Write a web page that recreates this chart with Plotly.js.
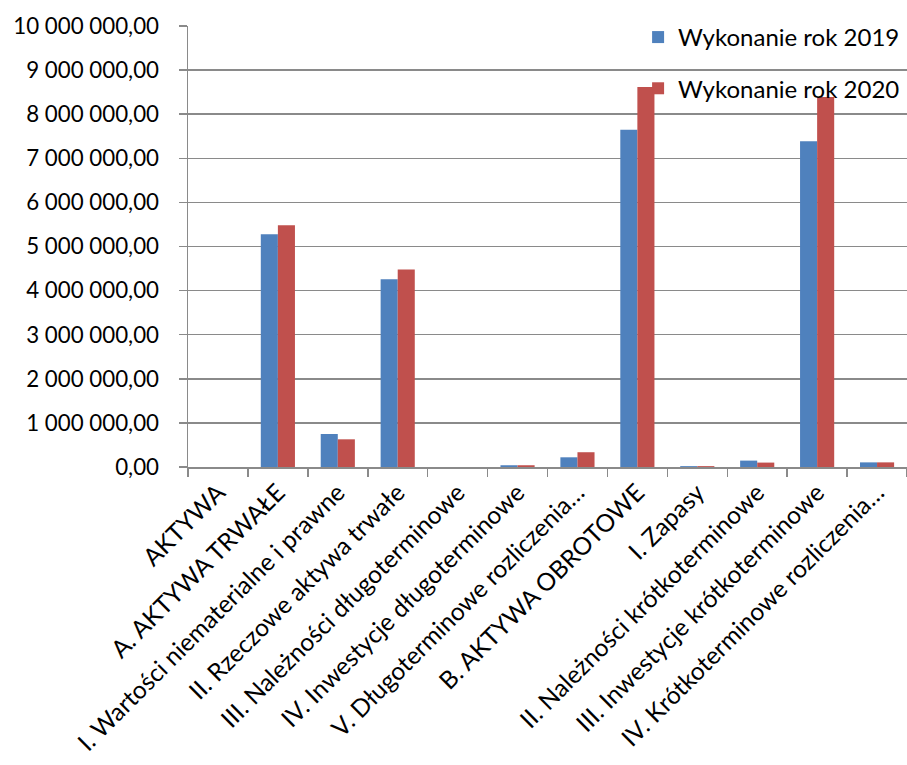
<!DOCTYPE html>
<html>
<head>
<meta charset="utf-8">
<script src="https://cdn.plot.ly/plotly-3.0.1.min.js"></script>
<style>html,body{margin:0;padding:0;background:#fff;}</style>
</head>
<body>
<div id="chart" style="width:907px;height:765px;"></div>
<script>
var categories = [
  "AKTYWA",
  "A. AKTYWA TRWAŁE",
  "I. Wartości niematerialne i prawne",
  "II. Rzeczowe aktywa trwałe",
  "III. Należności długoterminowe",
  "IV. Inwestycje długoterminowe",
  "V. Długoterminowe rozliczenia…",
  "B. AKTYWA OBROTOWE",
  "I. Zapasy",
  "II. Należności krótkoterminowe",
  "III. Inwestycje krótkoterminowe",
  "IV. Krótkoterminowe rozliczenia…"
];
var values2019 = [0, 5277000, 748000, 4256000, 0, 40000, 220000, 7650000, 20000, 145000, 7385000, 105000];
var values2020 = [0, 5480000, 628000, 4476000, 0, 40000, 335000, 8617000, 20000, 100000, 8390000, 105000];
var seriesNames = ["Wykonanie rok 2019", "Wykonanie rok 2020"];
var tickValues = [0, 1000000, 2000000, 3000000, 4000000, 5000000, 6000000, 7000000, 8000000, 9000000, 10000000];
var tickLabels = ["0,00", "1 000 000,00", "2 000 000,00", "3 000 000,00", "4 000 000,00", "5 000 000,00",
                  "6 000 000,00", "7 000 000,00", "8 000 000,00", "9 000 000,00", "10 000 000,00"];

var gridGray = "#8a8a8a";
var fontFam = "Lato, 'Open Sans', sans-serif";

var traces = [
  {type: "bar", name: seriesNames[0], x: categories, y: values2019,
   marker: {color: "#4F81BD"}, legendgroup: "a", hoverinfo: "x+y"},
  {type: "bar", name: seriesNames[1], x: categories, y: values2020,
   marker: {color: "#C0504D"}, legendgroup: "b", hoverinfo: "x+y"}
];

var layout = {
  width: 907, height: 765,
  margin: {l: 188, r: 0, t: 26, b: 298, pad: 0},
  paper_bgcolor: "#ffffff", plot_bgcolor: "#ffffff",
  font: {family: fontFam, size: 22, color: "#000000"},
  barmode: "group", bargap: 0.43, bargroupgap: 0,
  showlegend: true,
  legend: {x: 0.626, xanchor: "left", y: 1.025, yanchor: "top",
           font: {family: fontFam, size: 24, color: "#000"},
           bgcolor: "rgba(0,0,0,0)", traceorder: "grouped", tracegroupgap: 17},
  xaxis: {type: "category", range: [-0.5, 11.5], tickangle: -45,
          tickson: "boundaries", ticks: "outside", ticklen: 8, tickwidth: 1.5, tickcolor: gridGray,
          showline: true, linecolor: gridGray, linewidth: 1.5, showgrid: false,
          automargin: false, tickfont: {family: fontFam, size: 24.5, color: "#000"}},
  yaxis: {range: [0, 10000000], tickmode: "array", tickvals: tickValues, ticktext: tickLabels,
          ticks: "outside", ticklen: 8, tickwidth: 1.5, tickcolor: gridGray,
          showline: true, linecolor: gridGray, linewidth: 1.5,
          showgrid: true, gridcolor: gridGray, gridwidth: 1.5, zeroline: false,
          automargin: false, ticklabelstandoff: 15,
          tickfont: {family: fontFam, size: 22.3, color: "#000"}}
};

Plotly.newPlot("chart", traces, layout, {displayModeBar: false, staticPlot: true});
</script>
</body>
</html>
